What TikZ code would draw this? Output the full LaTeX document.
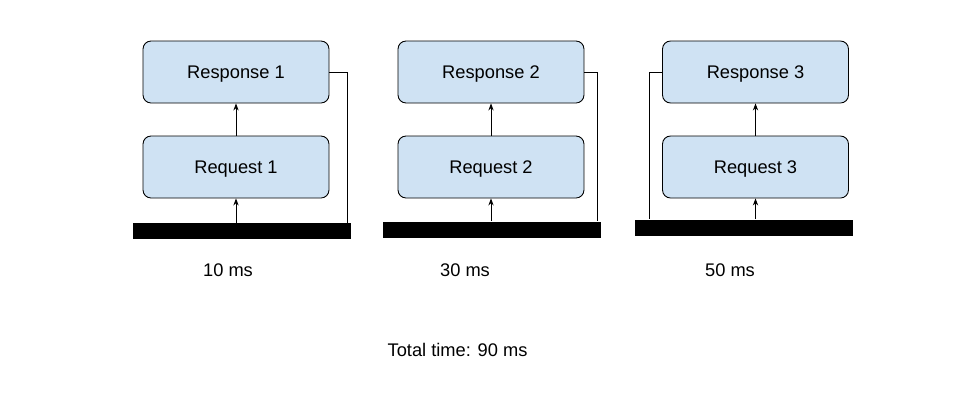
\documentclass[tikz,border=0pt]{standalone}
\usepackage{fontspec}
\setmainfont{Liberation Sans}
\usetikzlibrary{arrows.meta}
\definecolor{boxblue}{HTML}{CFE2F3}
\tikzset{
  box/.style={draw, line width=0.5pt, rounded corners=0.16cm, fill=boxblue,
    minimum width=3.72cm, minimum height=1.24cm, text height=1.55ex, text depth=0.1ex,
    font=\fontsize{10.4}{12}\selectfont},
  bar/.style={fill=black, inner sep=0pt, minimum width=4.36cm, minimum height=0.32cm},
  lbl/.style={font=\fontsize{10.4}{12}\selectfont},
  arr/.style={-{Stealth[length=4pt,width=3pt]}, line width=0.5pt}
}

\begin{document}
\begin{tikzpicture}[x=0.02cm, y=-0.02cm]
        \useasboundingbox (0, 0) rectangle (959, 407);
        \node[box] (res1) at (236, 72) {Response 1};
        \node[box] (req1) at (236, 167) {Request 1};
        \node[bar] (bar1) at (242, 231) {};
        \node[box] (res2) at (491, 72) {Response 2};
        \node[box] (req2) at (491, 167) {Request 2};
        \node[bar] (bar2) at (492, 229.5) {};
        \node[box] (res3) at (755.5, 72) {Response 3};
        \node[box] (req3) at (755.5, 167) {Request 3};
        \node[bar] (bar3) at (744, 227.5) {};
        \coordinate (t1) at (347, 223);
        \coordinate (t2) at (597, 221);
        \coordinate (t3) at (649, 219);
        \draw[arr] (req1.south |- bar1.north) -- (req1.south);
        \draw[arr] (req1.north) -- (res1.south);
        \draw[line width=0.5pt] (res1.east) -| (t1);
        \draw[arr] (req2.south |- bar2.north) -- (req2.south);
        \draw[arr] (req2.north) -- (res2.south);
        \draw[line width=0.5pt] (res2.east) -| (t2);
        \draw[arr] (req3.south |- bar3.north) -- (req3.south);
        \draw[arr] (req3.north) -- (res3.south);
        \draw[line width=0.5pt] (res3.west) -| (t3);
        \node[lbl] (ms1) at (228, 270) {10 ms};
        \node[lbl] (ms2) at (465, 270) {30 ms};
        \node[lbl] (ms3) at (730, 270) {50 ms};
        \node[lbl] (total) at (457.5, 350) {Total time: 90 ms};
\end{tikzpicture}
\end{document}
